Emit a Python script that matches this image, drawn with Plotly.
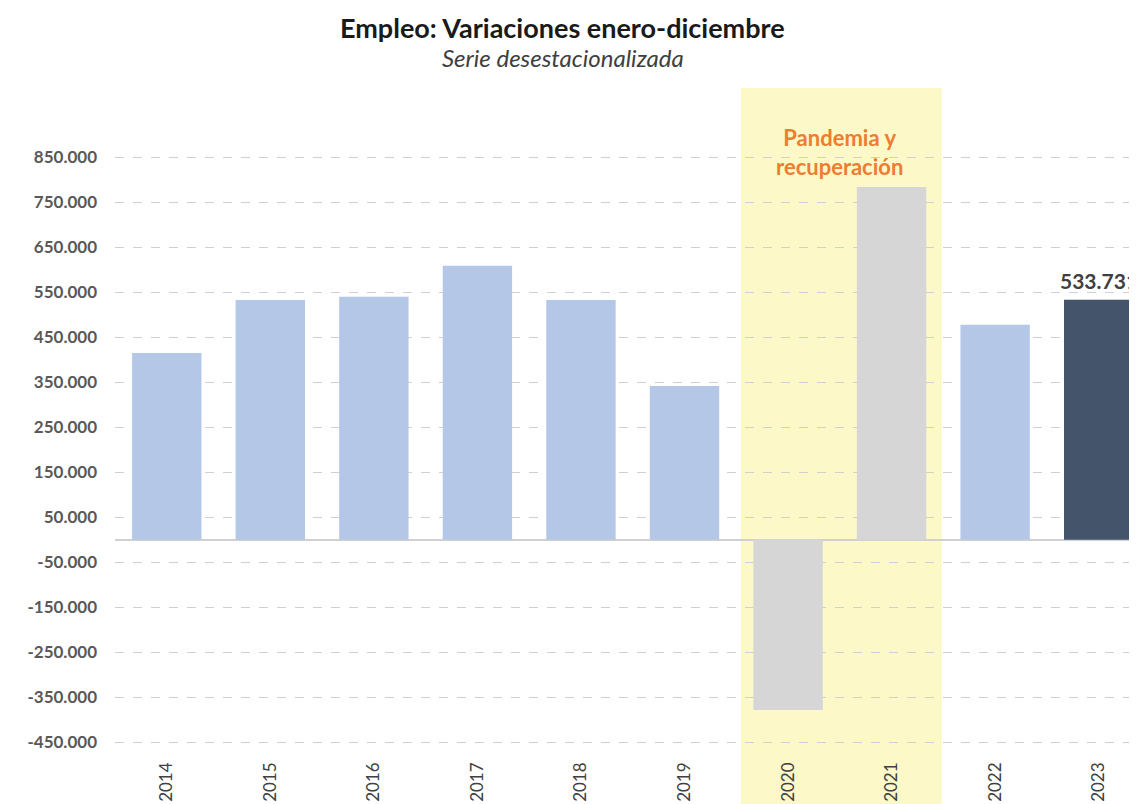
import plotly.graph_objects as go

# ---- data ----
years = ["2014", "2015", "2016", "2017", "2018", "2019", "2020", "2021", "2022", "2023"]
variation = [415000, 533000, 540000, 609000, 533000, 342000, -378000, 784000, 478000, 533731]
y_ticks = [850000, 750000, 650000, 550000, 450000, 350000, 250000, 150000, 50000,
           -50000, -150000, -250000, -350000, -450000]
highlight_years = ["2020", "2021"]
highlight_label = "Pandemia y<br>recuperación"
title_text = "Empleo: Variaciones enero-diciembre"
subtitle_text = "Serie desestacionalizada"

# ---- styles ----
C_LIGHT = "#B4C7E7"
C_GRAY = "#D6D6D6"
C_DARK = "#44546A"
colors = []
for i, yv in enumerate(years):
    if yv in highlight_years:
        colors.append(C_GRAY)
    elif i == len(years) - 1:
        colors.append(C_DARK)
    else:
        colors.append(C_LIGHT)

def fmt(v):
    s = f"{abs(v):,}".replace(",", ".")
    return ("-" if v < 0 else "") + s

FONT = "Lato"
X_RANGE = [-0.5, 9.37]
PLOT_TOP, PLOT_H = 80, 662

fig = go.Figure()
fig.add_trace(go.Bar(
    x=years, y=variation, marker=dict(color=colors, line=dict(width=0)),
    hoverinfo="x+y", showlegend=False,
))

# highlight band behind 2020-2021
i0 = years.index(highlight_years[0])
i1 = years.index(highlight_years[-1])
fig.add_shape(type="rect", xref="x", yref="paper",
              x0=i0 - 0.455, x1=i1 + 0.485, y0=-0.1, y1=1.0,
              fillcolor="#FCF8C8", line=dict(width=0), layer="below")

fig.add_annotation(x=(i0 + i1) / 2, xref="x", y=0.903, yref="paper",
                   yanchor="middle", text=f"<b>{highlight_label}</b>",
                   showarrow=False, font=dict(family=FONT, size=22, color="#ED7D31"))

# last value label (paper x so it is not hidden at the edge)
last_frac = (len(years) - 1 - X_RANGE[0]) / (X_RANGE[1] - X_RANGE[0])
fig.add_annotation(x=last_frac, xref="paper", y=variation[-1], yref="y",
                   yanchor="bottom", yshift=5, xanchor="center",
                   text=f"<b>{fmt(variation[-1])}</b>", showarrow=False,
                   font=dict(family=FONT, size=21, color="#404040"))

# title and subtitle
fig.add_annotation(x=0.438, xref="paper", y=(PLOT_TOP + PLOT_H) / PLOT_H - 0.002,
                   yref="paper", yanchor="top",
                   text=f"<b>{title_text}</b>", showarrow=False,
                   font=dict(family=FONT, size=27, color="#1a1a1a"))
fig.add_annotation(x=0.438, xref="paper", y=1.046, yref="paper", yanchor="middle",
                   text=f"<i>{subtitle_text}</i>", showarrow=False,
                   font=dict(family=FONT, size=24, color="#404040"))

fig.update_layout(
    width=1129, height=796,
    margin=dict(l=107, r=0, t=PLOT_TOP, b=54),
    paper_bgcolor="white", plot_bgcolor="rgba(0,0,0,0)",
    bargap=0.33,
    xaxis=dict(
        type="category", range=X_RANGE, tickangle=-90,
        showgrid=False, showline=False, ticks="",
        tickfont=dict(family=FONT, size=17, color="#404040"),
        ticklabelstandoff=8,
    ),
    yaxis=dict(
        range=[-467000, 1004000],
        tickvals=y_ticks, ticktext=[f"<b>{fmt(v)}</b>" for v in y_ticks],
        showgrid=True, gridcolor="#D0D0D0", griddash="dash", gridwidth=1,
        zeroline=True, zerolinecolor="#D0D0D0", zerolinewidth=1.5,
        showline=False, ticks="",
        tickfont=dict(family=FONT, size=17, color="#595959"),
        ticklabelstandoff=17,
    ),
)

fig.write_html("out.html")
